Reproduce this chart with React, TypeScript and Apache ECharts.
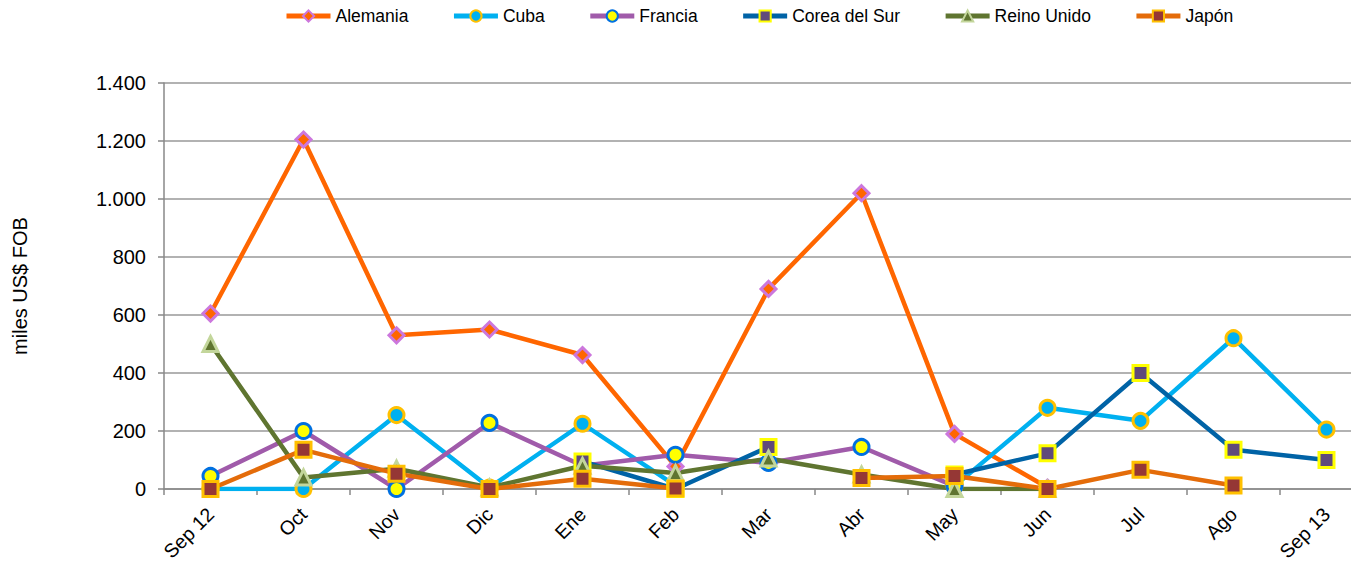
import React, { useEffect, useRef } from "react";
import * as echarts from "echarts";

const categories = ["Sep 12", "Oct", "Nov", "Dic", "Ene", "Feb", "Mar", "Abr", "May", "Jun", "Jul", "Ago", "Sep 13"];
const alemania = [605, 1205, 530, 550, 462, 78, 690, 1020, 190, 5, null, null, null];
const cuba = [0, 0, 255, 5, 225, 12, null, null, 10, 280, 235, 520, 205];
const francia = [45, 200, 0, 228, 80, 118, 90, 145, 10, null, null, null, null];
const corea = [null, null, null, null, 95, 0, 145, null, 50, 123, 400, 135, 100];
const reinoUnido = [500, 40, 70, 5, 80, 55, 105, 50, 0, 0, null, null, null];
const japon = [0, 135, 53, 0, 35, 2, null, 38, 45, 0, 66, 12, null];
const yTicks = [0, 200, 400, 600, 800, 1000, 1200, 1400];

const FONT = "Liberation Sans, Arial, sans-serif";

export default function App() {
  const ref = useRef<HTMLDivElement>(null);
  useEffect(() => {
    document.body.style.margin = "0";
    const chart = echarts.init(ref.current!, null, { renderer: "svg" });
    const mk = (
      name: string,
      data: (number | null)[],
      lineColor: string,
      symbol: string,
      fill: string,
      border: string,
      size: number
    ) => ({
      name,
      type: "line",
      data,
      symbol,
      symbolSize: size,
      showAllSymbol: true,
      connectNulls: false,
      lineStyle: { color: lineColor, width: 4.5 },
      itemStyle: { color: fill, borderColor: border, borderWidth: 3 },
      color: lineColor,
    });
    chart.setOption({
      animation: false,
      textStyle: { fontFamily: FONT },
      legend: {
        top: 7,
        left: 284,
        padding: 0,
        itemWidth: 44,
        itemHeight: 14,
        itemGap: 43,
        lineStyle: { width: 5 },
        textStyle: { fontSize: 17.5, color: "#000", fontFamily: FONT },
        data: ["Alemania", "Cuba", "Francia", "Corea del Sur", "Reino Unido", "Japón"],
      },
      grid: {
        left: 164,
        top: 83,
        width: 1209,
        height: 406,
        containLabel: false,
        outerBoundsMode: "none",
      },
      xAxis: {
        type: "category",
        data: categories,
        boundaryGap: true,
        axisLine: { lineStyle: { color: "#888", width: 1.5 } },
        axisTick: { show: true, length: 6, lineStyle: { color: "#888", width: 1.5 } },
        axisLabel: { rotate: 45, fontSize: 19.5, color: "#000", margin: 22, fontFamily: FONT },
      },
      yAxis: {
        type: "value",
        min: 0,
        max: 1400,
        interval: 200,
        name: "miles US$ FOB",
        nameLocation: "middle",
        nameGap: 134,
        nameRotate: 90,
        nameTextStyle: { fontSize: 20, color: "#000", fontFamily: FONT },
        axisLine: { show: true, lineStyle: { color: "#888", width: 1.5 } },
        axisTick: { show: true, length: 6, inside: false, lineStyle: { color: "#888", width: 1.5 } },
        splitLine: { lineStyle: { color: "#999", width: 1.5 } },
        axisLabel: {
          fontSize: 20,
          color: "#000",
          margin: 18,
          fontFamily: FONT,
          formatter: (v: number) => (yTicks.includes(v) ? String(v).replace(/\B(?=(\d{3})+(?!\d))/g, ".") : ""),
        },
      },
      series: [
        mk("Alemania", alemania, "#FF6600", "diamond", "#FF6600", "#CC77DD", 15),
        mk("Cuba", cuba, "#00B0F0", "circle", "#00B0F0", "#FFC000", 15),
        mk("Francia", francia, "#A05BAA", "circle", "#FFFF00", "#0070E0", 15),
        mk("Corea del Sur", corea, "#0063A6", "rect", "#604A7B", "#FFFF00", 15),
        mk("Reino Unido", reinoUnido, "#5F7530", "triangle", "#5F7530", "#C3D69B", 15),
        mk("Japón", japon, "#E46C0A", "rect", "#953735", "#FFC000", 15),
      ],
    });
    return () => chart.dispose();
  }, []);
  return <div ref={ref} style={{ width: 1351, height: 562 }} />;
}
